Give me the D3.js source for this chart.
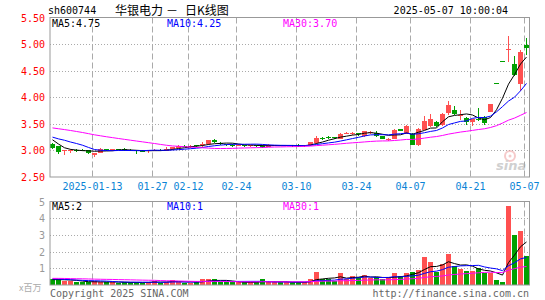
<!DOCTYPE html>
<html>
<head>
<meta charset="utf-8">
<script src="https://cdn.jsdelivr.net/npm/d3@7"></script>
<style>
  body { margin: 0; background: #fff; }
  svg { display: block; }
  text { font-family: "DejaVu Sans Mono", "Liberation Mono", monospace; font-size: 10px; }
</style>
</head>
<body>
<div id="chart"></div>
<script>
// trading days shown, 2025-01-02 .. 2025-05-07
var dates = [
  "2025-01-02","2025-01-03","2025-01-06","2025-01-07","2025-01-08","2025-01-09","2025-01-10",
  "2025-01-13","2025-01-14","2025-01-15","2025-01-16","2025-01-17","2025-01-20","2025-01-21",
  "2025-01-22","2025-01-23","2025-01-24","2025-01-27","2025-02-05","2025-02-06","2025-02-07",
  "2025-02-10","2025-02-11","2025-02-12","2025-02-13","2025-02-14","2025-02-17","2025-02-18",
  "2025-02-19","2025-02-20","2025-02-21","2025-02-24","2025-02-25","2025-02-26","2025-02-27",
  "2025-02-28","2025-03-03","2025-03-04","2025-03-05","2025-03-06","2025-03-07","2025-03-10",
  "2025-03-11","2025-03-12","2025-03-13","2025-03-14","2025-03-17","2025-03-18","2025-03-19",
  "2025-03-20","2025-03-21","2025-03-24","2025-03-25","2025-03-26","2025-03-27","2025-03-28",
  "2025-03-31","2025-04-01","2025-04-02","2025-04-03","2025-04-07","2025-04-08","2025-04-09",
  "2025-04-10","2025-04-11","2025-04-14","2025-04-15","2025-04-16","2025-04-17","2025-04-18",
  "2025-04-21","2025-04-22","2025-04-23","2025-04-24","2025-04-25","2025-04-28","2025-04-29",
  "2025-04-30","2025-05-06","2025-05-07"
];
var open = [
  3.12,3.08,2.98,2.99,3.00,3.01,3.00, 2.92,2.96,3.02,2.99,3.02,3.03,3.01,
  3.00,2.99,2.99,3.00,3.01,2.99,3.02, 3.05,3.09,3.06,3.10,3.11,3.12,3.20,
  3.14,3.12,3.11,3.10,3.10,3.08,3.10, 3.09,3.07,3.09,3.10,3.09,3.10,3.09,
  3.08,3.10,3.14,3.23,3.26,3.25,3.22, 3.32,3.31,3.32,3.27,3.34,3.32,3.27,
  3.20,3.22,3.40,3.31,3.31,3.10,3.39, 3.45,3.54,3.47,3.70,3.76,3.64,3.61,
  3.54,3.60,3.63,3.73,4.26,4.68,4.89, 4.63,4.24,4.99
];
var high = [
  3.14,3.09,3.00,3.03,3.03,3.02,3.01, 2.96,3.04,3.03,3.03,3.03,3.05,3.02,
  3.01,3.01,3.01,3.03,3.02,3.07,3.07, 3.10,3.10,3.11,3.11,3.15,3.20,3.22,
  3.15,3.13,3.12,3.12,3.11,3.11,3.11, 3.10,3.13,3.11,3.11,3.11,3.11,3.12,
  3.11,3.16,3.27,3.25,3.27,3.26,3.33, 3.35,3.34,3.33,3.37,3.37,3.37,3.28,
  3.23,3.40,3.41,3.47,3.33,3.42,3.65, 3.68,3.56,3.70,3.93,3.83,3.76,3.63,
  3.60,3.80,3.65,3.88,4.26,4.68,5.15, 4.77,4.88,5.12
];
var low = [
  3.02,2.94,2.91,2.96,2.97,2.98,2.94, 2.87,2.95,2.99,2.98,3.00,2.99,2.98,
  2.94,2.97,2.95,2.98,2.99,2.98,3.01, 3.04,3.06,3.05,3.06,3.07,3.11,3.14,
  3.11,3.08,3.07,3.08,3.07,3.07,3.06, 3.05,3.06,3.08,3.08,3.08,3.07,3.07,
  3.07,3.09,3.13,3.19,3.22,3.21,3.21, 3.30,3.29,3.27,3.26,3.31,3.25,3.21,
  3.18,3.21,3.36,3.30,3.10,3.09,3.38, 3.44,3.44,3.45,3.67,3.67,3.58,3.47,
  3.45,3.55,3.48,3.72,4.26,4.68,4.66, 4.40,4.11,4.80
];
var close = [
  3.05,2.97,3.00,3.01,3.00,3.00,2.95, 2.96,3.03,3.01,3.02,3.01,3.00,3.00,
  2.98,2.99,3.00,3.01,3.00,3.02,3.06, 3.09,3.08,3.09,3.08,3.12,3.19,3.15,
  3.12,3.11,3.11,3.11,3.08,3.10,3.09, 3.07,3.10,3.10,3.09,3.10,3.08,3.08,
  3.10,3.15,3.24,3.22,3.25,3.24,3.30, 3.33,3.32,3.31,3.36,3.35,3.28,3.22,
  3.21,3.39,3.37,3.45,3.10,3.40,3.56, 3.59,3.46,3.69,3.86,3.69,3.66,3.53,
  3.59,3.58,3.52,3.87,4.26,4.68,4.90, 4.42,4.86,4.92
];
// volume, millions
var volume = [
  0.38,0.36,0.26,0.22,0.18,0.16,0.18, 0.22,0.20,0.16,0.16,0.14,0.16,0.15,
  0.16,0.14,0.16,0.26,0.14,0.20,0.28, 0.18,0.14,0.14,0.16,0.36,0.36,0.34,
  0.16,0.16,0.16,0.16,0.16,0.16,0.16, 0.36,0.16,0.16,0.16,0.16,0.16,0.16,
  0.16,0.36,0.77,0.36,0.36,0.26,0.71, 0.36,0.54,0.46,0.60,0.40,0.46,0.34,
  0.40,0.73,0.54,0.73,0.79,0.89,1.69, 1.39,0.79,1.25,1.85,1.13,0.95,0.85,
  0.85,1.03,0.73,0.73,0.30,0.18,4.76, 2.98,3.23,1.73
];
// the 29 sessions before the window, only feeding the moving averages
var prevClose = [
  3.45,3.48,3.52,3.55,3.58,3.60,3.62,3.58,3.55,3.52,3.50,3.48,3.47,3.46,3.45,3.46,3.48,
  3.52,3.49,3.45, 3.30,3.26,3.34,3.28,3.32, 3.37,3.35,3.16,3.07
];
var prevVolume = [
  0.35,0.42,0.50,0.38,0.33,0.45,0.52,0.40,0.36,0.31,0.44,0.38,0.35,0.42,0.39,0.36,0.41,
  0.55,0.52,0.46, 0.44,0.42,0.40,0.38,0.36, 0.34,0.31,0.29,0.28
];

var priceTicks = [5.5, 5.0, 4.5, 4.0, 3.5, 3.0, 2.5];
var volTicks = [5, 4, 3, 2, 1];
var tickDates = ["2025-01-13","2025-01-27","2025-02-12","2025-02-24","2025-03-10",
                 "2025-03-24","2025-04-07","2025-04-21","2025-05-07"];
var tickLabels = ["2025-01-13","01-27","02-12","02-24","03-10","03-24","04-07","04-21","05-07"];
var priceMaText = ["MA5:4.75", "MA10:4.25", "MA30:3.70"];
var volMaText = ["MA5:2", "MA10:1", "MA30:1"];

var width = 545, height = 300;
var RED = "#ff5050", GREEN = "#00a000";
var maColors = ["#000000", "#0000ff", "#ff00ff"];
var maDays = [5, 10, 30];

var svg = d3.select("#chart").append("svg")
    .attr("width", width)
    .attr("height", height);

var x = d3.scaleLinear().domain([0, dates.length]).range([50, 50 + 6 * dates.length]);
var yP = d3.scaleLinear().domain([2.5, 5.5]).range([177, 17.5]);
var yV = d3.scaleLinear().domain([0, 5]).range([285, 201.5]);
var L = 50, R = 529.5;

function movingAvg(prev, vals, n) {
  var all = prev.concat(vals);
  return vals.map(function (v, i) {
    var k = i + prev.length;
    return d3.mean(all.slice(k - n + 1, k + 1));
  });
}
function isUp(i) { return close[i] > open[i]; }

// header
var cjk = "'Noto Sans CJK SC', sans-serif";
svg.append("text").attr("x", 48).attr("y", 14).text("sh600744");
svg.append("text").attr("x", 115).attr("y", 15)
    .style("font-family", cjk).style("font-size", "12px").text("华银电力");
svg.append("text").attr("x", 166).attr("y", 15)
    .style("font-family", cjk).style("font-size", "12px").text("－");
svg.append("text").attr("x", 185).attr("y", 15)
    .style("font-family", cjk).style("font-size", "12px").text("日K线图");
svg.append("text").attr("x", 508).attr("y", 14).attr("text-anchor", "end").text("2025-05-07 10:00:04");

// grids shared by both panels
function vGrid(top, bottom) {
  svg.append("g").selectAll("line")
      .data(tickDates)
      .enter()
      .append("line")
      .attr("x1", function (d) { return x(dates.indexOf(d)) + 0.5; })
      .attr("x2", function (d) { return x(dates.indexOf(d)) + 0.5; })
      .attr("y1", top).attr("y2", bottom)
      .attr("stroke", "#aaa")
      .attr("stroke-dasharray", "6,3");
}

// ---- price panel
svg.append("g").selectAll("line")
    .data(priceTicks.slice(1, -1))
    .enter()
    .append("line")
    .attr("x1", L).attr("x2", R)
    .attr("y1", function (d) { return Math.round(yP(d)) + 0.5; })
    .attr("y2", function (d) { return Math.round(yP(d)) + 0.5; })
    .attr("stroke", "#aaa")
    .attr("stroke-dasharray", "1,2");
vGrid(yP(5.5), yP(2.5));

svg.append("g").selectAll("text")
    .data(priceTicks)
    .enter()
    .append("text")
    .attr("x", 45)
    .attr("y", function (d) { return yP(d) + 4; })
    .attr("text-anchor", "end")
    .attr("fill", "#ff0000")
    .text(function (d) { return d.toFixed(2); });

svg.append("g").selectAll("text")
    .data(tickLabels)
    .enter()
    .append("text")
    .attr("x", function (d, i) { return x(dates.indexOf(tickDates[i])) + 0.5; })
    .attr("y", 190)
    .attr("text-anchor", "middle")
    .attr("fill", "#0a84d6")
    .text(function (d) { return d; });

// candles
var candles = svg.append("g").attr("shape-rendering", "crispEdges");
candles.selectAll("line")
    .data(dates)
    .enter()
    .append("line")
    .attr("x1", function (d, i) { return x(i) + 2.5; })
    .attr("x2", function (d, i) { return x(i) + 2.5; })
    .attr("y1", function (d, i) { return yP(high[i]); })
    .attr("y2", function (d, i) { return yP(low[i]); })
    .attr("stroke", function (d, i) { return isUp(i) ? RED : GREEN; });
candles.selectAll("rect")
    .data(dates)
    .enter()
    .append("rect")
    .attr("x", function (d, i) { return x(i); })
    .attr("width", 5)
    .attr("y", function (d, i) { return yP(Math.max(open[i], close[i])); })
    .attr("height", function (d, i) { return Math.max(1, yP(Math.min(open[i], close[i])) - yP(Math.max(open[i], close[i]))); })
    .attr("fill", function (d, i) { return isUp(i) ? RED : GREEN; });

var line = d3.line();
maDays.forEach(function (n, k) {
  var m = movingAvg(prevClose, close, n);
  svg.append("path")
      .attr("d", line(m.map(function (v, i) { return [x(i) + 2.5, yP(v)]; })))
      .attr("fill", "none")
      .attr("stroke", maColors[k])
      .attr("stroke-width", 1);
});

svg.append("rect")
    .attr("x", L).attr("y", yP(5.5))
    .attr("width", R - L).attr("height", yP(2.5) - yP(5.5))
    .attr("fill", "none").attr("stroke", "#999");

[52, 167, 283].forEach(function (px, k) {
  svg.append("text").attr("x", px).attr("y", 27).attr("fill", maColors[k]).text(priceMaText[k]);
});

// sina mark
var mark = svg.append("g").attr("opacity", 0.55);
mark.append("circle").attr("cx", 510).attr("cy", 156).attr("r", 5)
    .attr("fill", "none").attr("stroke", "#f0a0a0").attr("stroke-width", 2);
mark.append("circle").attr("cx", 510).attr("cy", 156).attr("r", 1.5).attr("fill", "#f0a0a0");
mark.append("text").attr("x", 496).attr("y", 170)
    .style("font-family", "'DejaVu Sans', sans-serif").style("font-size", "13px")
    .style("font-weight", "bold").style("font-style", "italic")
    .attr("fill", "#aaa").text("sina");

// ---- volume panel
svg.append("g").selectAll("line")
    .data(volTicks.slice(1))
    .enter()
    .append("line")
    .attr("x1", L).attr("x2", R)
    .attr("y1", function (d) { return Math.round(yV(d)) + 0.5; })
    .attr("y2", function (d) { return Math.round(yV(d)) + 0.5; })
    .attr("stroke", "#aaa")
    .attr("stroke-dasharray", "1,2");
vGrid(yV(5), yV(0));

svg.append("g").selectAll("text")
    .data(volTicks)
    .enter()
    .append("text")
    .attr("x", 45)
    .attr("y", function (d) { return yV(d) + 4; })
    .attr("text-anchor", "end")
    .attr("fill", "#999")
    .text(function (d) { return d; });
svg.append("text").attr("x", 19).attr("y", 291).attr("fill", "#aaa")
    .style("font-family", cjk).style("font-size", "9px")
    .text("x百万");

svg.append("g").attr("shape-rendering", "crispEdges")
    .selectAll("rect")
    .data(volume)
    .enter()
    .append("rect")
    .attr("x", function (d, i) { return x(i); })
    .attr("width", 5)
    .attr("y", function (d) { return yV(d); })
    .attr("height", function (d) { return yV(0) - yV(d); })
    .attr("fill", function (d, i) { return isUp(i) ? RED : GREEN; });

maDays.forEach(function (n, k) {
  var m = movingAvg(prevVolume, volume, n);
  svg.append("path")
      .attr("d", line(m.map(function (v, i) { return [x(i) + 2.5, yV(v)]; })))
      .attr("fill", "none")
      .attr("stroke", maColors[k])
      .attr("stroke-width", 1);
});

svg.append("rect")
    .attr("x", L).attr("y", yV(5))
    .attr("width", R - L).attr("height", yV(0) - yV(5))
    .attr("fill", "none").attr("stroke", "#999");

[52, 167, 283].forEach(function (px, k) {
  svg.append("text").attr("x", px).attr("y", 210).attr("fill", maColors[k]).text(volMaText[k]);
});

// footer
svg.append("text").attr("x", 50).attr("y", 297).attr("fill", "#666").text("Copyright 2025 SINA.COM");
svg.append("text").attr("x", 529).attr("y", 297).attr("text-anchor", "end").attr("fill", "#666")
    .text("http://finance.sina.com.cn");
</script>
</body>
</html>
